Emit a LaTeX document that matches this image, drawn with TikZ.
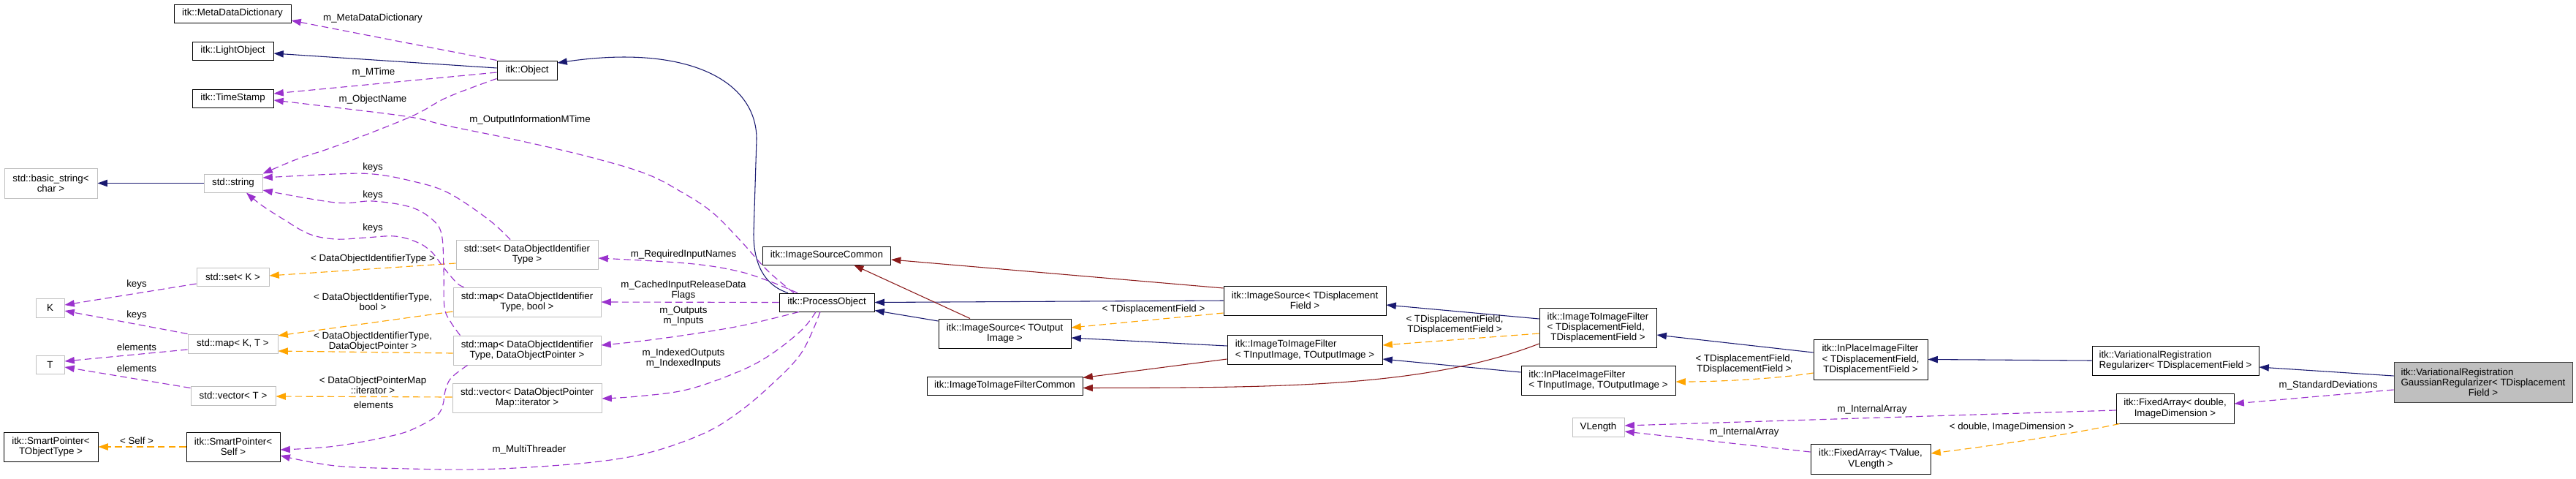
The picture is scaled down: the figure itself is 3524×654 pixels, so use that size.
\documentclass[tikz,border=0pt]{standalone}
\usepackage{fontspec}
\setmainfont{Liberation Sans}
\usetikzlibrary{arrows.meta,calc}
\definecolor{navy}{HTML}{191970}
\definecolor{dred}{HTML}{8B1A1A}
\definecolor{orng}{HTML}{FFA500}
\definecolor{purp}{HTML}{9A32CD}
\definecolor{boxgray}{HTML}{BFBFBF}
\newcommand\lcol[1]{\begin{tabular}[b]{@{}l@{}}#1\end{tabular}}
\tikzset{
  txt/.style={font=\fontsize{10}{10.7}\selectfont},
  bx/.style 2 args={minimum width=#1*0.75pt, minimum height=#2*0.75pt},
  box/.style={txt, draw=black, line width=0.75pt, inner sep=0pt, align=center},
  gbox/.style={box, draw=boxgray},
  lbl/.style={txt, inner sep=0pt, align=center},
  tip/.style={-{Triangle[length=10pt,width=7pt]}},
  inh/.style={tip, draw=navy, line width=0.8pt},
  priv/.style={tip, draw=dred, line width=0.8pt},
  tmpl/.style={tip, draw=orng, line width=0.85pt, dash pattern=on 7pt off 4pt},
  use/.style={tip, draw=purp, line width=0.85pt, dash pattern=on 7pt off 4pt},
}
\begin{document}
\begin{tikzpicture}[x=0.75pt,y=-0.75pt]
\fill[white] (0,0) rectangle (3524,654);
\useasboundingbox (0,0) rectangle (3524,654);
% nodes
\node[box,bx={160}{25}] (mdd) at (318,18.5) {itk::MetaDataDictionary};
\node[box,bx={111}{25}] (lobj) at (318.5,69.5) {itk::LightObject};
\node[box,bx={82}{26}] (obj) at (721,96) {itk::Object};
\node[box,bx={111}{25}] (ts) at (318.5,134.5) {itk::TimeStamp};
\node[gbox,bx={127}{41}] (bstr) at (69.5,250.5) {std::basic\_string<\\char >};
\node[gbox,bx={80}{25}] (str) at (319,250.5) {std::string};
\node[gbox,bx={99}{25}] (setK) at (318.5,378.5) {std::set< K >};
\node[gbox,bx={39}{26}] (K) at (68.5,421) {K};
\node[gbox,bx={123}{26}] (mapKT) at (318.5,470) {std::map< K, T >};
\node[gbox,bx={39}{25}] (T) at (68.5,498.5) {T};
\node[gbox,bx={116}{26}] (vecT) at (319,541) {std::vector< T >};
\node[box,bx={129}{40}] (spT) at (69.5,611) {itk::SmartPointer<\\TObjectType >};
\node[box,bx={128}{40}] (spS) at (319,611) {itk::SmartPointer<\\Self >};
\node[gbox,bx={194}{40}] (setD) at (721,348) {std::set< DataObjectIdentifier\\Type >};
\node[gbox,bx={202}{40}] (mapB) at (721,413) {std::map< DataObjectIdentifier\\Type, bool >};
\node[gbox,bx={202}{40}] (mapP) at (721,479) {std::map< DataObjectIdentifier\\Type, DataObjectPointer >};
\node[gbox,bx={204}{40}] (vecI) at (721,544) {std::vector< DataObjectPointer\\Map::iterator >};
\node[box,bx={130}{25}] (po) at (1131,413.5) {itk::ProcessObject};
\node[box,bx={175}{25}] (isc) at (1131,349.5) {itk::ImageSourceCommon};
\node[box,bx={181}{40}] (isto) at (1374.5,456) {itk::ImageSource< TOutput\\Image >};
\node[box,bx={213}{25}] (itifc) at (1374.5,527.5) {itk::ImageToImageFilterCommon};
\node[box,bx={222}{40}] (istdf) at (1785,411) {itk::ImageSource< TDisplacement\\Field >};
\node[box,bx={212}{40},align=left] (itifIO) at (1785,478.5) {itk::ImageToImageFilter\\< TInputImage, TOutputImage >};
\node[box,bx={160}{54}] (itifD) at (2186,448) {\lcol{itk::ImageToImageFilter\\< TDisplacementField,}\\TDisplacementField >};
\node[box,bx={211}{40},align=left] (ipIO) at (2186.5,520) {itk::InPlaceImageFilter\\< TInputImage, TOutputImage >};
\node[gbox,bx={71}{26}] (vlen) at (2186.5,584) {VLength};
\node[box,bx={156}{55}] (ipD) at (2559,491.5) {\lcol{itk::InPlaceImageFilter\\< TDisplacementField,}\\TDisplacementField >};
\node[box,bx={228}{40},align=left] (reg) at (2976,493) {itk::VariationalRegistration\\Regularizer< TDisplacementField >};
\node[box,bx={244}{55},fill=boxgray,draw=black!75] (gauss) at (3397,522.5) {\lcol{itk::VariationalRegistration\\GaussianRegularizer< TDisplacement}\\Field >};
\node[box,bx={161}{41}] (faD) at (2975.5,558.5) {itk::FixedArray< double,\\ImageDimension >};
\node[box,bx={164}{41}] (faT) at (2559,627.5) {itk::FixedArray< TValue,\\VLength >};
% public inheritance
\draw[inh] ($(obj.west)+(0,-3)$) -- ($(lobj.east)+(0,3.5)$);
\draw[inh] ($(po.north)+(-53,0)$) .. controls (1045,390) and (1031,360) .. (1031,320) -- (1035,190) .. controls (1035,110) and (940,60) .. ($(obj.east)+(0,-10)$);
\draw[inh] (str.west) -- (bstr.east);
\draw[inh] ($(isto.west)+(0,-17)$) -- ($(po.east)+(0,11)$);
\draw[inh] (istdf.west) -- (po.east);
\draw[inh] ($(itifIO.west)+(0,-5.5)$) -- ($(isto.east)+(0,6)$);
\draw[inh] ($(itifD.west)+(0,-12)$) -- ($(istdf.east)+(0,6)$);
\draw[inh] ($(ipIO.west)+(0,-11)$) -- ($(itifIO.east)+(0,12.5)$);
\draw[inh] ($(ipD.west)+(0,-9.5)$) -- ($(itifD.east)+(0,10)$);
\draw[inh] (reg.west) -- (ipD.east);
\draw[inh] ($(gauss.west)+(0,-8.5)$) -- ($(reg.east)+(0,9)$);
% private inheritance
\draw[priv] ($(isto.north)+(-47.5,0)$) -- ($(isc.south)+(37,0)$);
\draw[priv] ($(istdf.west)+(0,-17)$) -- ($(isc.east)+(0,5.5)$);
\draw[priv] ($(itifIO.west)+(0,12.5)$) -- ($(itifc.east)+(0,-11)$);
\draw[priv] ($(itifD.west)+(0,22)$) .. controls (1950,530) and (1750,530) .. ($(itifc.east)+(0,3)$);
% template instances
\draw[tmpl] ($(setD.west)+(0,12)$) -- ($(setK.east)+(0,-1.5)$);
\draw[tmpl] ($(mapB.west)+(0,13)$) -- ($(mapKT.east)+(0,-11)$);
\draw[tmpl] ($(mapP.west)+(0,4)$) -- ($(mapKT.east)+(0,10)$);
\draw[tmpl] ($(vecI.west)+(0,-1)$) -- ($(vecT.east)+(0,1)$);
\draw[tmpl] (spS.west) -- (spT.east);
\draw[tmpl] ($(istdf.west)+(0,17)$) -- ($(isto.east)+(0,-8)$);
\draw[tmpl] ($(itifD.west)+(0,8)$) -- ($(itifIO.east)+(0,-6.5)$);
\draw[tmpl] ($(ipD.west)+(0,18.5)$) .. controls (2430,518) and (2350,522) .. ($(ipIO.east)+(0,2)$);
\draw[tmpl] ($(faD.south west)+(5,0)$) .. controls (2840,592) and (2760,605) .. ($(faT.east)+(0,-7.5)$);
% usage
\draw[use] (obj.north west) -- ($(mdd.east)+(0,9.5)$);
\draw[use] ($(obj.west)+(0,3)$) -- ($(ts.east)+(0,-6.5)$);
\draw[use] plot[smooth,tension=0.6] coordinates {($(obj.south west)+(0,-2)$) (612,133) (561,160) (459,200) (408,217) (str.north east)};
\draw[use] plot[smooth,tension=0.6] coordinates {($(po.north)+(-45,0)$) (1050,370) (1012,328) (974,290) (933,263) (882,237) (800,213) (700,190) (612,172) (561,160) (459,147) ($(ts.east)+(0,2.5)$)};
\draw[use] plot[smooth,tension=0.6] coordinates {($(setD.north)+(-23,0)$) (668,300) (612,263) (561,247) (510,238) (459,238) ($(str.east)+(0,-7.5)$)};
\draw[use] plot[smooth,tension=0.6] coordinates {($(mapP.north west)+(10,0)$) (617,441) (608,420) (607,370) (604,320) (590,299) (561,283) (510,275) (459,277) ($(str.east)+(0,9.5)$)};
\draw[use] plot[smooth,tension=0.6] coordinates {($(mapB.north west)+(15,0)$) (625,387) (607,366) (590,344) (570,331) (540,323) (500,325) (459,327) (423,320) (388,300) (357,280) ($(str.south)+(18,0)$)};
\draw[use] plot[smooth,tension=0.6] coordinates {($(mapP.south west)+(20,0)$) (617,517) (609,535) (606,553) (598,568) (573,583) (540,595) (459,610) ($(spS.east)+(0,4)$)};
\draw[use] ($(setK.west)+(0,9.5)$) -- ($(K.east)+(0,-4)$);
\draw[use] (mapKT.north west) -- ($(K.east)+(0,4)$);
\draw[use] ($(mapKT.west)+(0,8)$) -- ($(T.east)+(0,-4.5)$);
\draw[use] ($(vecT.north west)+(0,3)$) -- ($(T.east)+(0,3.5)$);
\draw[use] plot[smooth,tension=0.6] coordinates {($(po.north)+(-40,0)$) (1051,384) (1006,370) (939,360) ($(setD.east)+(0,5)$)};
\draw[use] (po.west) -- (mapB.east);
\draw[use] plot[smooth,tension=0.6] coordinates {($(po.south)+(-38,0)$) (1051,437) (1006,447) (939,458) (872,467) ($(mapP.east)+(0,-7)$)};
\draw[use] plot[smooth,tension=0.6] coordinates {($(po.south)+(-15,0)$) (1096,452) (1051,487) (1006,510) (939,533) (872,542) ($(vecI.east)+(0,1)$)};
\draw[use] plot[smooth,tension=0.6] coordinates {($(po.south)+(-9,0)$) (1096,483) (1051,530) (1006,567) (962,593) (895,617) (828,630) (739,638) (649,642) (560,641) (459,637) ($(spS.east)+(0,12)$)};
\draw[use] ($(gauss.west)+(0,10.5)$) -- ($(faD.east)+(0,-6.5)$);
\draw[use] ($(faD.west)+(0,2.5)$) -- ($(vlen.east)+(0,-2)$);
\draw[use] ($(faT.west)+(0,-9.5)$) -- ($(vlen.east)+(0,6)$);
% labels
\node[lbl] (l1) at (510,25) {m\_MetaDataDictionary};
\node[lbl] (l2) at (511,99) {m\_MTime};
\node[lbl] (l3) at (510,136) {m\_ObjectName};
\node[lbl] (l4) at (725,164) {m\_OutputInformationMTime};
\node[lbl] (l5) at (510,229) {keys};
\node[lbl] (l6) at (510,267) {keys};
\node[lbl] (l7) at (510,312) {keys};
\node[lbl] (l8) at (510,354) {< DataObjectIdentifierType >};
\node[lbl] (l9) at (187,389) {keys};
\node[lbl] (l10) at (187,431) {keys};
\node[lbl] (l11) at (510,413) {< DataObjectIdentifierType,\\bool >};
\node[lbl] (l12) at (187,475) {elements};
\node[lbl] (l13) at (510,467) {< DataObjectIdentifierType,\\DataObjectPointer >};
\node[lbl] (l14) at (187,504) {elements};
\node[lbl] (l15) at (510,527) {< DataObjectPointerMap\\::iterator >};
\node[lbl] (l16) at (511,554) {elements};
\node[lbl] (l17) at (187,603) {< Self >};
\node[lbl] (l18) at (724,615) {m\_MultiThreader};
\node[lbl] (l19) at (935,348) {m\_RequiredInputNames};
\node[lbl] (l20) at (935,397) {m\_CachedInputReleaseData\\Flags};
\node[lbl] (l21) at (935,432) {m\_Outputs\\m\_Inputs};
\node[lbl] (l22) at (935,490) {m\_IndexedOutputs\\m\_IndexedInputs};
\node[lbl] (l23) at (1578,423) {< TDisplacementField >};
\node[lbl] (l24) at (1990,444) {< TDisplacementField,\\TDisplacementField >};
\node[lbl] (l25) at (2386,498) {< TDisplacementField,\\TDisplacementField >};
\node[lbl] (l26) at (2561,560) {m\_InternalArray};
\node[lbl] (l27) at (2386,591) {m\_InternalArray};
\node[lbl] (l28) at (2752,584) {< double, ImageDimension >};
\node[lbl] (l29) at (3185,527) {m\_StandardDeviations};
\end{tikzpicture}
\end{document}
